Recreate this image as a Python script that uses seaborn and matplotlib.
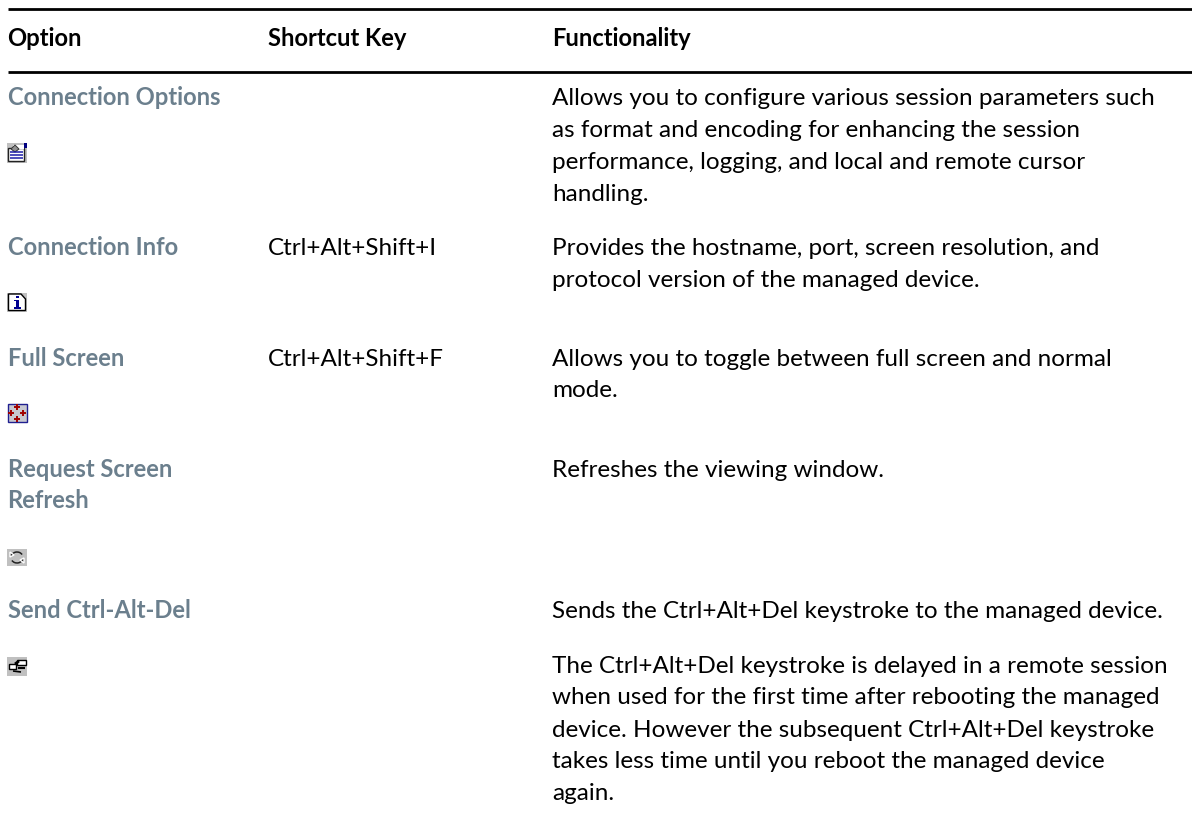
import matplotlib
matplotlib.use('Agg')
import matplotlib.pyplot as plt
import seaborn as sns
from matplotlib.patches import Rectangle, Polygon, Arc

sns.set_theme(style='white')
plt.rcParams['font.family'] = ['Lato', 'DejaVu Sans']

# table content
headers = ['Option', 'Shortcut Key', 'Functionality']
options = ['Connection Options', 'Connection Info', 'Full Screen',
           'Request Screen', 'Refresh', 'Send Ctrl-Alt-Del']
shortcuts = ['Ctrl+Alt+Shift+I', 'Ctrl+Alt+Shift+F']
descriptions = [
    'Allows you to configure various session parameters such',
    'as format and encoding for enhancing the session',
    'performance, logging, and local and remote cursor',
    'handling.',
    'Provides the hostname, port, screen resolution, and',
    'protocol version of the managed device.',
    'Allows you to toggle between full screen and normal',
    'mode.',
    'Refreshes the viewing window.',
    'Sends the Ctrl+Alt+Del keystroke to the managed device.',
    'The Ctrl+Alt+Del keystroke is delayed in a remote session',
    'when used for the first time after rebooting the managed',
    'device. However the subsequent Ctrl+Alt+Del keystroke',
    'takes less time until you reboot the managed device',
    'again.',
]

# layout, in pixels of the page
col_x = [7.5, 268, 552]
header_y = 46.5
option_y = [105, 255, 366, 477, 508, 618]
shortcut_y = [255, 366]
desc_y = [105, 137, 169, 201, 255, 287, 366, 397, 477, 618, 673, 704, 737, 768, 800]
rule_y = [8.7, 72.3]

SLATE = '#6b7f8d'
SIZE = 17.5
BOLD_SIZE = 17.1

fig, ax = plt.subplots(figsize=(11.92, 8.14), dpi=100)
ax.set_position([0, 0, 1, 1])

for y in rule_y:
    sns.lineplot(x=[8, 1192], y=[y, y], ax=ax, color='black', linewidth=2.0,
                 solid_capstyle='butt', legend=False)

ax.set_xlim(0, 1192)
ax.set_ylim(814, 0)
ax.axis('off')

for x, label in zip(col_x, headers):
    ax.text(x, header_y, label, fontsize=BOLD_SIZE, fontweight='bold', color='black', va='baseline')
for y, label in zip(option_y, options):
    ax.text(col_x[0], y, label, fontsize=BOLD_SIZE, fontweight='bold', color=SLATE, va='baseline')
for y, label in zip(shortcut_y, shortcuts):
    ax.text(col_x[1], y, label, fontsize=SIZE, color='black', va='baseline')
for y, label in zip(desc_y, descriptions):
    ax.text(col_x[2], y, label, fontsize=SIZE, color='black', va='baseline')


# small toolbar icons
def box(x, y, w, h, face, edge='none', lw=0.8):
    ax.add_patch(Rectangle((x, y), w, h, facecolor=face, edgecolor=edge, linewidth=lw))


def seg(x0, y0, x1, y1, color='black', lw=1.0):
    ax.plot([x0, x1], [y0, y1], color=color, linewidth=lw, solid_capstyle='butt')


# connection options
box(7, 143, 20, 20, '#c0c0c0')
box(8, 148, 16, 13, 'white', '#222222', 1.0)
box(24, 143, 3, 5, '#000080')
box(13, 145, 11, 4, 'white')
for k in range(3):
    seg(10, 152 + k * 3, 23, 152 + k * 3, '#1c1ca8', 1.1)
ax.add_patch(Polygon([(11, 149), (15, 145), (19, 149), (15, 152)], facecolor='#909090', edgecolor='#333333', linewidth=0.7))

# connection info
box(7, 293, 20, 19, '#c0c0c0')
ax.add_patch(Polygon([(8.5, 294), (21, 294), (25.5, 299), (25.5, 310.5), (8.5, 310.5)],
                     facecolor='white', edgecolor='black', linewidth=1.0))
box(15.5, 295.5, 3, 2.5, '#000090')
box(15.5, 300, 3, 7.5, '#000090')
box(13.5, 307, 7, 2, '#000090')
box(13.5, 299.5, 4, 1.5, '#000090')

# full screen
box(7.5, 403.5, 19, 18.5, '#c8c8d0', '#202090', 1.0)
cx, cy = 17, 412.5
for dx, dy in [(0, -6), (0, 6), (-6, 0), (6, 0)]:
    seg(cx + dx - 3, cy + dy, cx + dx + 3, cy + dy, '#a00000', 1.4)
    seg(cx + dx, cy + dy - 3, cx + dx, cy + dy + 3, '#a00000', 1.4)

# request screen refresh
box(7, 549, 20, 17, '#c0c0c0')
ax.add_patch(Arc((17, 557.5), 12, 11, theta1=190, theta2=330, color='#222222', linewidth=1.1))
ax.add_patch(Arc((17, 557.5), 12, 11, theta1=10, theta2=150, color='#222222', linewidth=1.1))
ax.add_patch(Polygon([(10, 552), (14, 555), (10, 557)], facecolor='#222222'))
ax.add_patch(Polygon([(24, 563), (20, 560), (24, 558)], facecolor='#222222'))

# send ctrl-alt-del
box(7, 657, 20, 19, '#c0c0c0')
box(9, 664, 7, 5, 'white', 'black', 1.0)
box(17, 660, 9, 5, 'white', 'black', 1.0)
seg(15, 664, 19, 661, 'black', 2.0)
seg(18, 668, 25, 668, 'black', 1.5)
seg(13, 671, 21, 672, 'black', 1.2)

sns.despine(ax=ax, left=True, bottom=True)
fig.savefig('out.png', dpi=100)
